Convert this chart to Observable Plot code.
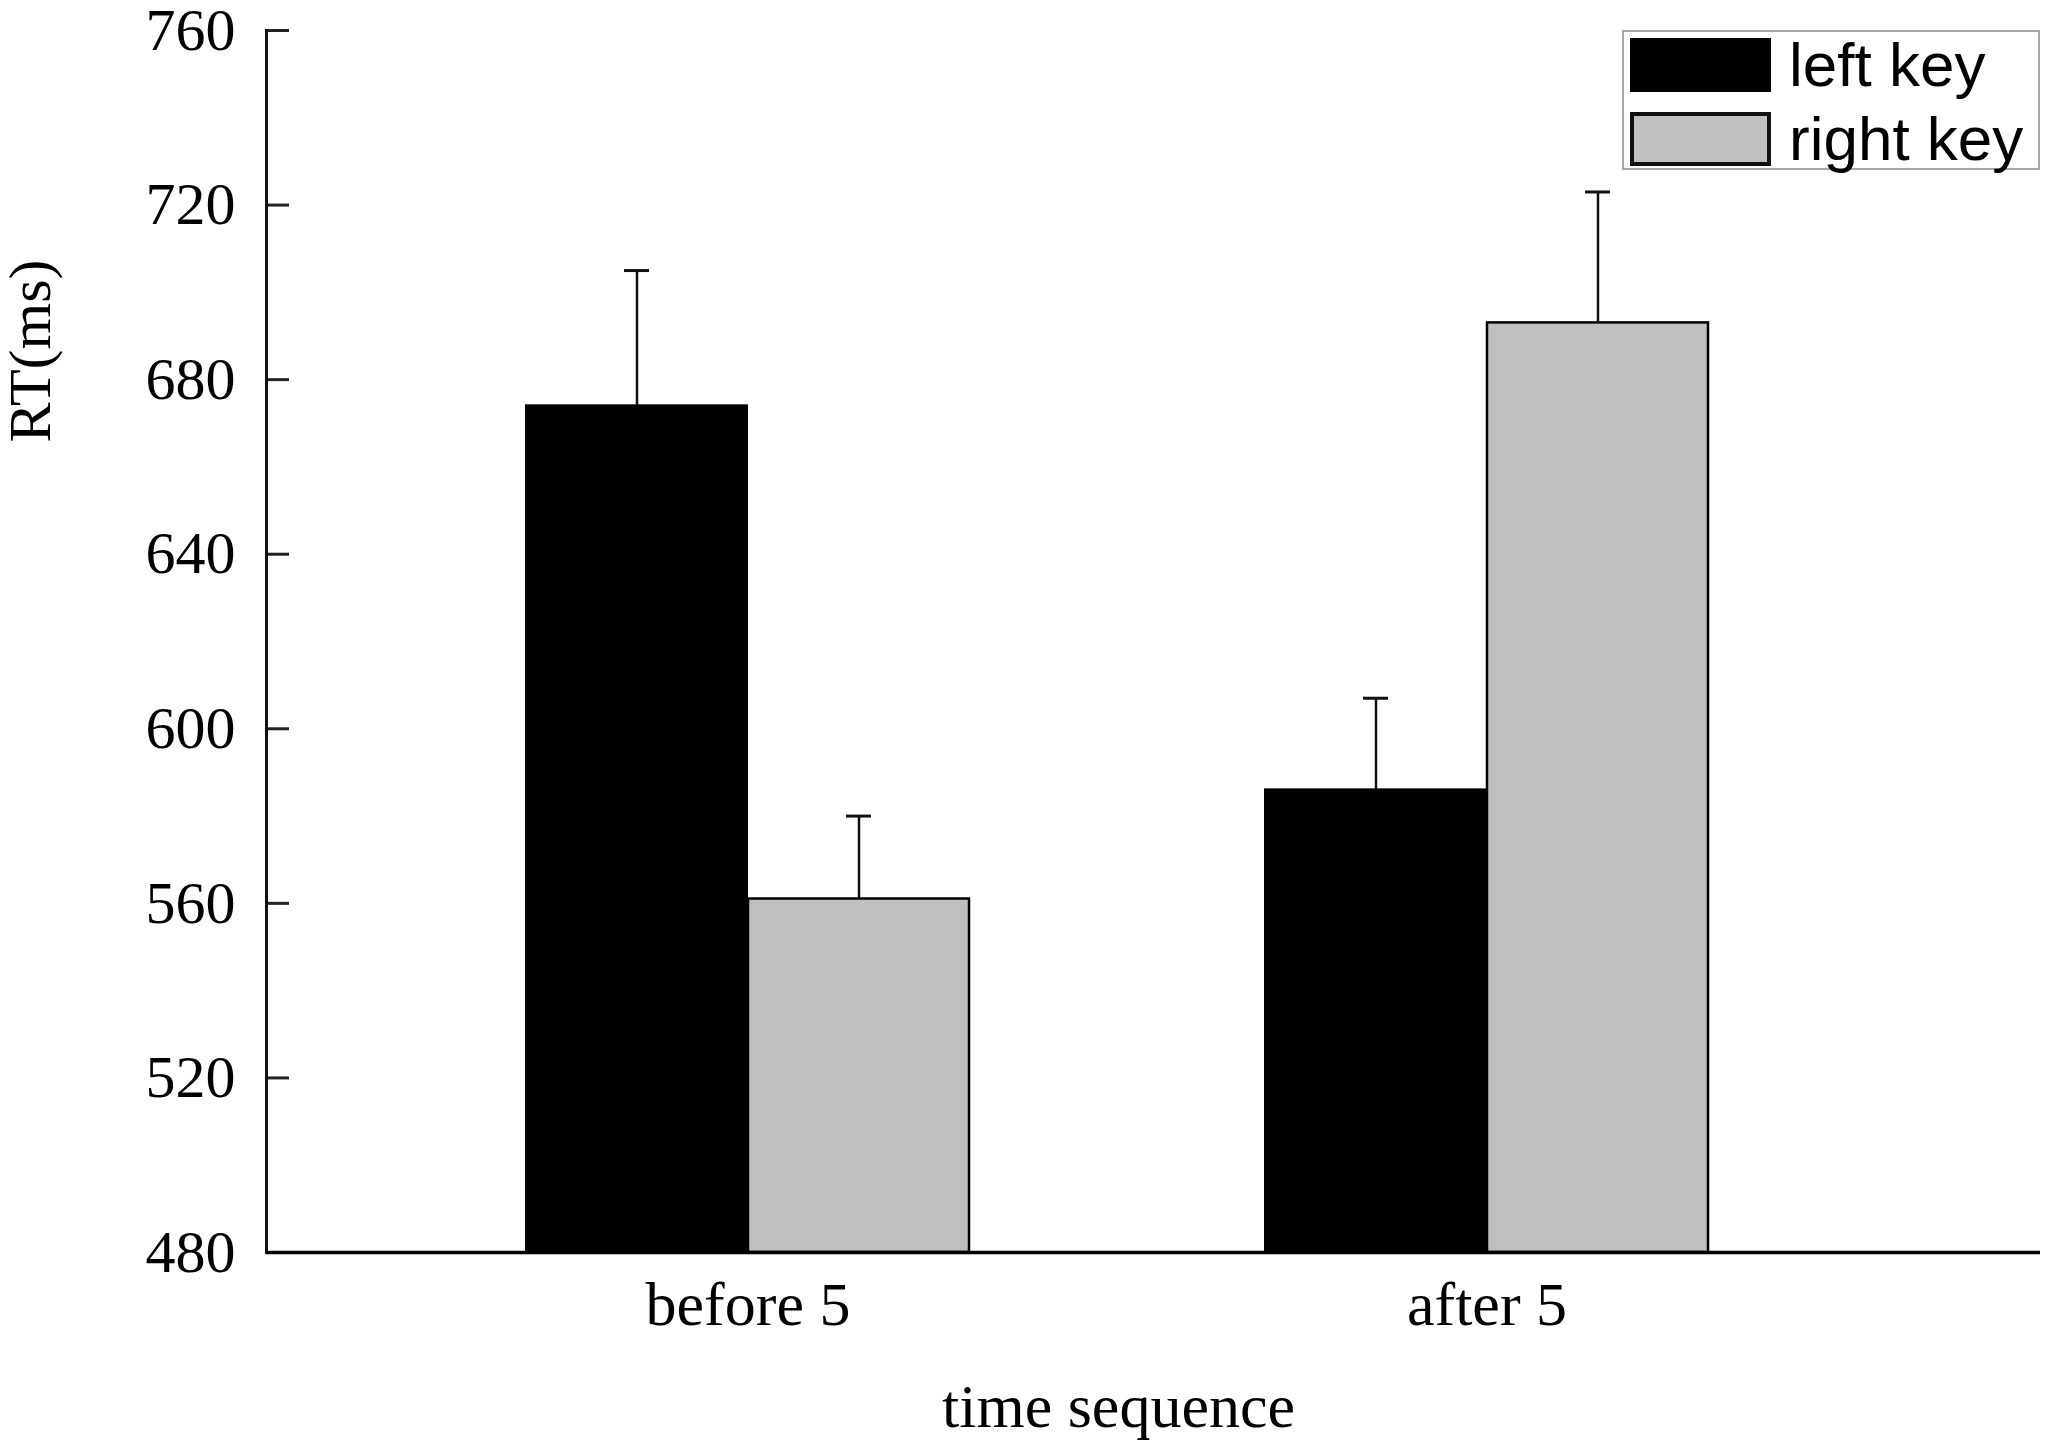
<!DOCTYPE html>
<html>
<head>
<meta charset="utf-8">
<script src="https://cdn.jsdelivr.net/npm/d3@7"></script>
<script src="https://cdn.jsdelivr.net/npm/@observablehq/plot@0.6"></script>
<style>
  html, body { margin: 0; padding: 0; background: #fff; }
  #wrap { position: relative; width: 2049px; height: 1447px; }
  #legend {
    position: absolute; left: 1622px; top: 30px; width: 414px; height: 136px;
    border: 2px solid #a8a8a8; background: #fff; box-sizing: content-box;
    font-family: "Liberation Sans", Arial, sans-serif; font-size: 62px; color: #000;
  }
  #legend .row { position: absolute; left: 6px; height: 54px; display: flex; align-items: center; }
  #legend .sw { width: 141px; height: 54px; box-sizing: border-box; margin-right: 18px; }
  #legend .lbl { line-height: 54px; white-space: nowrap; }
</style>
</head>
<body>
<div id="wrap"></div>
<script>
const categories = ["before 5", "after 5"];
const keys = ["left key", "right key"];
const leftKeyRT = [674, 586];
const rightKeyRT = [561, 693];
const leftKeyErr = [31, 21];
const rightKeyErr = [19, 30];
const yTicks = [480, 520, 560, 600, 640, 680, 720, 760];
const keyFill = ["#000000", "#c0c0c0"];
const yMin = 480, yMax = 760;

const leftRows = categories.map((c, i) => ({category: c, key: keys[0], rt: leftKeyRT[i], err: leftKeyErr[i]}));
const rightRows = categories.map((c, i) => ({category: c, key: keys[1], rt: rightKeyRT[i], err: rightKeyErr[i]}));

const serif = "'Liberation Serif', 'Times New Roman', serif";
const half = 222;

const chart = Plot.plot({
  width: 2049,
  height: 1447,
  marginLeft: 266,
  marginRight: 9,
  marginTop: 30,
  marginBottom: 195,
  style: {fontFamily: serif, background: "#fff", color: "#000", overflow: "visible"},
  x: {domain: categories, range: [303, 1931], paddingInner: 0.4, paddingOuter: 0.3},
  y: {domain: [yMin, yMax]},
  marks: [
    // bars
    Plot.barY(leftRows, {x: "category", y1: () => yMin, y2: "rt", fill: keyFill[0], stroke: "#000", strokeWidth: 2, insetRight: half}),
    Plot.barY(rightRows, {x: "category", y1: () => yMin, y2: "rt", fill: keyFill[1], stroke: "#000", strokeWidth: 2.5, insetLeft: half}),
    // error bars (upper only)
    Plot.ruleX(leftRows, {x: "category", y1: "rt", y2: d => d.rt + d.err, dx: -half / 2, stroke: "#111", strokeWidth: 2.5}),
    Plot.ruleX(rightRows, {x: "category", y1: "rt", y2: d => d.rt + d.err, dx: half / 2, stroke: "#111", strokeWidth: 2.5}),
    Plot.tickY(leftRows, {x: "category", y: d => d.rt + d.err, dx: -half / 2, inset: half - 13, stroke: "#111", strokeWidth: 3}),
    Plot.tickY(rightRows, {x: "category", y: d => d.rt + d.err, dx: half / 2, inset: half - 13, stroke: "#111", strokeWidth: 3}),
    // inward y ticks
    Plot.tickY(yTicks, {y: d => d, insetRight: 1774 - 23, stroke: "#222", strokeWidth: 3}),
    // axes
    Plot.frame({anchor: "left", stroke: "#111", strokeWidth: 3}),
    Plot.axisY({ticks: yTicks, tickSize: 0, tickPadding: 31, fontSize: 60, label: null}),
    Plot.axisX({tickSize: 0, tickPadding: 28, fontSize: 62, label: null}),
    Plot.ruleY([yMin], {stroke: "#000", strokeWidth: 3.5}),
    // axis titles
    Plot.text(["RT(ms)"], {frameAnchor: "top-left", rotate: -90, dx: -259, dy: 412, fontSize: 60, fontFamily: serif, fill: "#000"}),
    Plot.text(["time sequence"], {frameAnchor: "bottom-left", textAnchor: "middle", dx: 852, dy: 174, fontSize: 62, fontFamily: serif, fill: "#000"})
  ]
});

const wrap = document.getElementById("wrap");
wrap.appendChild(chart);

const legend = document.createElement("div");
legend.id = "legend";
keys.forEach((k, i) => {
  const row = document.createElement("div");
  row.className = "row";
  row.style.top = (i === 0 ? 6 : 80) + "px";
  const sw = document.createElement("div");
  sw.className = "sw";
  sw.style.background = keyFill[i];
  sw.style.border = i === 0 ? "1px solid #000" : "4px solid #111";
  const lbl = document.createElement("span");
  lbl.className = "lbl";
  lbl.textContent = k;
  row.appendChild(sw);
  row.appendChild(lbl);
  legend.appendChild(row);
});
wrap.appendChild(legend);
</script>
</body>
</html>
